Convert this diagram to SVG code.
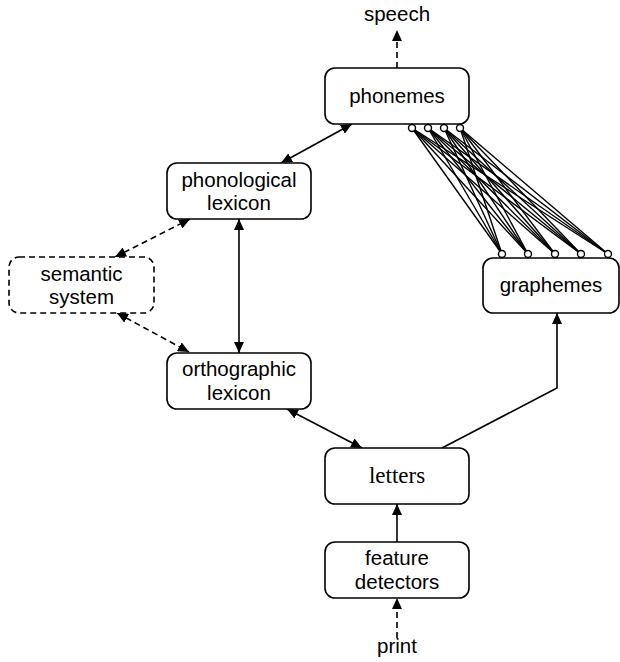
<svg xmlns="http://www.w3.org/2000/svg" width="620" height="662" viewBox="0 0 620 662">
<style>
.box{fill:#fff;stroke:#000;stroke-width:1.6}
.dbox{fill:#fff;stroke:#000;stroke-width:1.6;stroke-dasharray:6 4}
.t{font-family:"Liberation Sans",Arial,sans-serif;font-size:20.5px;fill:#000;text-anchor:middle}
.ts{font-family:"Liberation Serif","Times New Roman",serif;font-size:23px;fill:#000;text-anchor:middle}
.c{fill:none;stroke:#000;stroke-width:1.6}
.d{fill:none;stroke:#000;stroke-width:1.6;stroke-dasharray:6 4}
.w{stroke:#000;stroke-width:1.4}
.o{fill:#fff;stroke:#000;stroke-width:1.4}
</style>
<defs>
<marker id="a" viewBox="0 0 11 10" refX="11" refY="5" markerWidth="11" markerHeight="10" markerUnits="userSpaceOnUse" orient="auto-start-reverse">
<path d="M0,0 L11,5 L0,10 z" fill="#000"/>
</marker>
</defs>
<g id="connectors">
<line class="d" x1="397" y1="68" x2="397" y2="30" marker-end="url(#a)"/>
<line class="c" x1="281" y1="163" x2="352" y2="124" marker-start="url(#a)" marker-end="url(#a)"/>
<line class="d" x1="115" y1="257" x2="190" y2="219" marker-start="url(#a)" marker-end="url(#a)"/>
<line class="d" x1="117" y1="313" x2="189" y2="352" marker-start="url(#a)" marker-end="url(#a)"/>
<line class="c" x1="239" y1="219" x2="239" y2="353" marker-start="url(#a)" marker-end="url(#a)"/>
<line class="c" x1="287" y1="409" x2="362" y2="448" marker-start="url(#a)" marker-end="url(#a)"/>
<polyline class="c" points="442,448 557,388 557,313" marker-end="url(#a)"/>
<line class="c" x1="397" y1="542" x2="397" y2="504" marker-end="url(#a)"/>
<line class="d" x1="397" y1="638" x2="397" y2="598" marker-end="url(#a)"/>
<g id="wires">
<line class="w" x1="412" y1="128" x2="502" y2="254"/><line class="w" x1="412" y1="128" x2="528" y2="254"/><line class="w" x1="412" y1="128" x2="555" y2="254"/><line class="w" x1="412" y1="128" x2="581" y2="254"/><line class="w" x1="412" y1="128" x2="608" y2="254"/>
<line class="w" x1="428" y1="128" x2="502" y2="254"/><line class="w" x1="428" y1="128" x2="528" y2="254"/><line class="w" x1="428" y1="128" x2="555" y2="254"/><line class="w" x1="428" y1="128" x2="581" y2="254"/><line class="w" x1="428" y1="128" x2="608" y2="254"/>
<line class="w" x1="444" y1="128" x2="502" y2="254"/><line class="w" x1="444" y1="128" x2="528" y2="254"/><line class="w" x1="444" y1="128" x2="555" y2="254"/><line class="w" x1="444" y1="128" x2="581" y2="254"/><line class="w" x1="444" y1="128" x2="608" y2="254"/>
<line class="w" x1="460" y1="128" x2="502" y2="254"/><line class="w" x1="460" y1="128" x2="528" y2="254"/><line class="w" x1="460" y1="128" x2="555" y2="254"/><line class="w" x1="460" y1="128" x2="581" y2="254"/><line class="w" x1="460" y1="128" x2="608" y2="254"/>
</g>
</g>
<text class="t" x="397" y="21">speech</text>
<text class="t" x="397" y="653">print</text>
<g id="phonemes">
<rect class="box" x="325" y="68" width="144" height="56" rx="10"/>
<text class="t" x="397" y="103">phonemes</text>
<circle class="o" cx="412" cy="128" r="3.5"/><circle class="o" cx="428" cy="128" r="3.5"/><circle class="o" cx="444" cy="128" r="3.5"/><circle class="o" cx="460" cy="128" r="3.5"/>
</g>
<g id="phonological">
<rect class="box" x="167" y="163" width="144" height="56" rx="10"/>
<text class="t" x="239" y="187">phonological</text>
<text class="t" x="239" y="210">lexicon</text>
</g>
<g id="semantic">
<rect class="dbox" x="9" y="257" width="145" height="56" rx="10"/>
<text class="t" x="81.5" y="281">semantic</text>
<text class="t" x="81.5" y="304">system</text>
</g>
<g id="graphemes">
<rect class="box" x="483" y="258" width="136" height="55" rx="10"/>
<text class="t" x="551" y="292">graphemes</text>
<circle class="o" cx="502" cy="254" r="3.5"/><circle class="o" cx="528" cy="254" r="3.5"/><circle class="o" cx="555" cy="254" r="3.5"/><circle class="o" cx="581" cy="254" r="3.5"/><circle class="o" cx="608" cy="254" r="3.5"/>
</g>
<g id="orthographic">
<rect class="box" x="167" y="353" width="144" height="56" rx="10"/>
<text class="t" x="239" y="376">orthographic</text>
<text class="t" x="239" y="400">lexicon</text>
</g>
<g id="letters">
<rect class="box" x="325" y="448" width="144" height="56" rx="10"/>
<text class="ts" x="397" y="483">letters</text>
</g>
<g id="feature">
<rect class="box" x="325" y="542" width="144" height="56" rx="10"/>
<text class="t" x="397" y="565">feature</text>
<text class="t" x="397" y="589">detectors</text>
</g>
</svg>
